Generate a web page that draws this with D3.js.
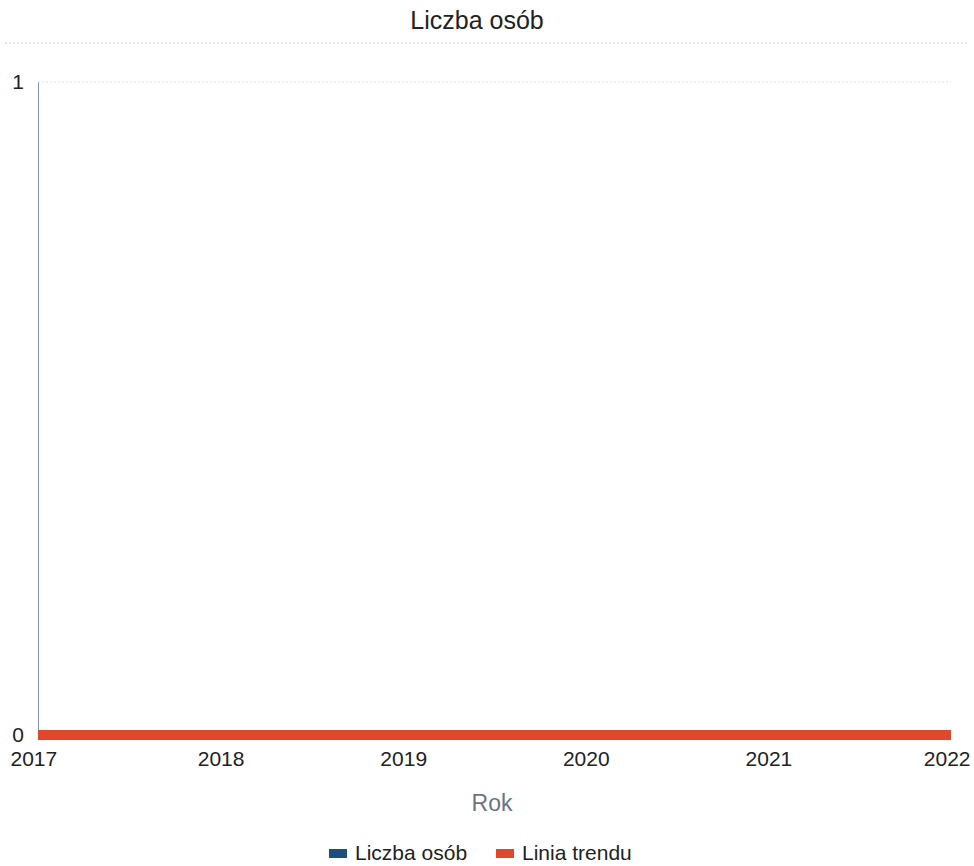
<!DOCTYPE html>
<html><head><meta charset="utf-8">
<script src="https://cdn.jsdelivr.net/npm/d3@7"></script>
<style>body{margin:0;background:#fff;font-family:"Liberation Sans",Arial,sans-serif;}</style>
</head><body>
<svg id="c" width="974" height="866"></svg>
<script>
const years = [2017, 2018, 2019, 2020, 2021, 2022];
const liczbaOsob = [0, 0, 0, 0, 0, 0];
const liniaTrendu = [0, 0, 0, 0, 0, 0];
const yTicks = [0, 1];
const seriesNames = ["Liczba osób", "Linia trendu"];
const colors = ["#1c4f7c", "#e0482c"];

const svg = d3.select("#c");
const m = {l: 38, r: 23, t: 82, b: 131};
const W = 974, H = 866;
const x = d3.scaleLinear().domain([2017, 2022]).range([m.l, W - m.r]);
const y = d3.scaleLinear().domain([0, 1]).range([H - m.b, m.t]);

svg.append("text").attr("x", 477).attr("y", 29).attr("text-anchor", "middle")
  .attr("font-size", 25).attr("fill", "#222").text("Liczba osób");
svg.append("line").attr("x1", 5).attr("x2", W - 5).attr("y1", 43).attr("y2", 43)
  .attr("stroke", "#ccc").attr("stroke-dasharray", "2,2");

// grid
svg.append("g").selectAll("line").data(yTicks.filter(d => d > 0)).join("line")
  .attr("x1", m.l).attr("x2", W - m.r).attr("y1", d => y(d)).attr("y2", d => y(d))
  .attr("stroke", "#ddd").attr("stroke-dasharray", "2,2");

// y axis
const ya = svg.append("g").attr("transform", `translate(${m.l},0)`)
  .call(d3.axisLeft(y).tickValues(yTicks).tickFormat(d3.format("d")).tickSize(0).tickPadding(14));
ya.select(".domain").attr("stroke", "#7f95ad");
ya.selectAll("text").attr("font-size", 21).attr("fill", "#222").attr("font-family", "Liberation Sans, Arial, sans-serif").attr("dy", "0.3em");

// x axis
const xa = svg.append("g").attr("transform", `translate(0,${H - m.b})`)
  .call(d3.axisBottom(x).tickValues(years).tickFormat(d3.format("d")).tickSize(0).tickPadding(16));
xa.select(".domain").remove();
xa.selectAll("text").attr("font-size", 21).attr("fill", "#222").attr("font-family", "Liberation Sans, Arial, sans-serif")
  .attr("text-anchor", (d, i) => i === 0 ? "start" : (i === years.length - 1 ? "end" : "middle"))
  .attr("dx", (d, i) => i === 0 ? -28 : (i === years.length - 1 ? 19 : 0));

svg.append("text").attr("x", 492).attr("y", 811).attr("text-anchor", "middle")
  .attr("font-size", 23).attr("fill", "#6b7385").text("Rok");

const line = d3.line().x((d, i) => x(years[i])).y(d => y(d));
svg.append("path").datum(liczbaOsob).attr("d", line).attr("fill", "none")
  .attr("stroke", colors[0]).attr("stroke-width", 3);
svg.append("path").datum(liniaTrendu).attr("d", line).attr("fill", "none")
  .attr("stroke", colors[1]).attr("stroke-width", 10).attr("stroke-linecap", "butt");

// legend
const lg = svg.append("g");
const items = [{n: seriesNames[0], c: colors[0], x: 329}, {n: seriesNames[1], c: colors[1], x: 496}];
items.forEach(it => {
  lg.append("rect").attr("x", it.x).attr("y", 849).attr("width", 18).attr("height", 9).attr("fill", it.c);
  lg.append("text").attr("x", it.x + 26).attr("y", 860).attr("font-size", 21).attr("fill", "#222").text(it.n);
});
</script>
</body></html>
